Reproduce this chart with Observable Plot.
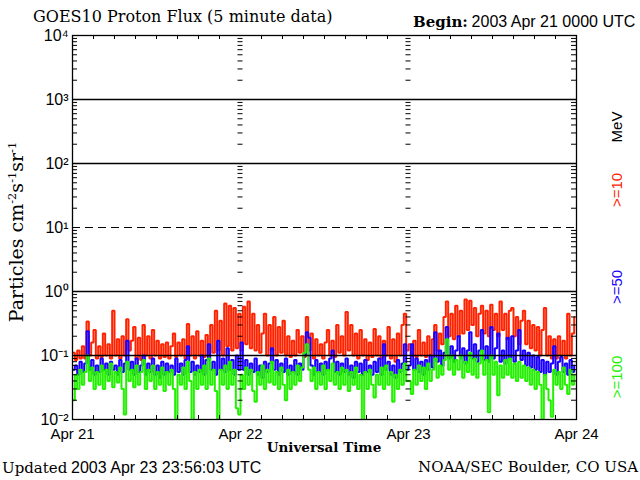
<!DOCTYPE html>
<html><head><meta charset="utf-8">
<script src="https://cdn.jsdelivr.net/npm/d3@7"></script>
<script src="https://cdn.jsdelivr.net/npm/@observablehq/plot@0.6"></script>
<style>
body{margin:0;background:#fff;}
#wrap{position:relative;width:640px;height:480px;overflow:hidden;background:#fff;}
#wrap svg{position:absolute;left:0;top:0;}
.t{position:absolute;white-space:nowrap;line-height:1;color:#000;}
.serif{font-family:"DejaVu Serif",serif;}
.sans{font-family:"Liberation Sans",Arial,sans-serif;}
.rot{transform:translate(-50%,-50%) rotate(-90deg);}
sup{font-size:60%;vertical-align:0.55em;line-height:0;}
</style></head><body>
<div id="wrap">
  <div class="t serif" style="left:33px;top:9px;font-size:16px">GOES10 Proton Flux (5 minute data)</div>
  <div class="t" style="left:413px;top:14px;font-size:15px"><b class="serif">Begin:</b> <span class="sans" style="font-size:16px">2003 Apr 21 0000 UTC</span></div>
  <div class="t serif" style="left:324px;top:448px;transform:translate(-50%,-50%);font-size:13.5px;font-weight:bold">Universal Time</div>
  <div class="t" style="left:2px;top:460px;font-size:15px"><span class="serif">Updated</span> <span class="sans" style="font-size:16px">2003 Apr 23 23:56:03 UTC</span></div>
  <div class="t serif" style="right:2px;top:460px;font-size:15px">NOAA/SEC Boulder, CO USA</div>
  <div class="t serif rot" style="left:16px;top:232px;font-size:19px">Particles cm<sup>-2</sup>s<sup>-1</sup>sr<sup>-1</sup></div>
  <div class="t sans rot" style="left:616px;top:127px;font-size:15px;color:#000">MeV</div>
  <div class="t sans rot" style="left:616px;top:190px;font-size:15px;color:#ff2200">&gt;=10</div>
  <div class="t sans rot" style="left:616px;top:287px;font-size:15px;color:#1a00ff">&gt;=50</div>
  <div class="t sans rot" style="left:616px;top:377px;font-size:15px;color:#22f000">&gt;=100</div>
</div>
<script>
// ---- data (20-minute samples, Apr 21 00:00 UTC onward) ----
const startTime = Date.UTC(2003, 3, 21, 0, 0);
const endTime = Date.UTC(2003, 3, 24, 0, 0);
const sampleMinutes = 20;
const dayLabels = ["Apr 21", "Apr 22", "Apr 23", "Apr 24"];
const decadeExponents = [-2, -1, 0, 1, 2, 3, 4];
const solidLevels = [0.1, 1, 100, 1000];
const dashedLevels = [10];
const channelNames = [">=10 MeV", ">=50 MeV", ">=100 MeV"];
const channelColors = ["#ff2200", "#1a00ff", "#22f000"];

const flux10 = [
  0.11,0.085,0.12,0.09,0.14,0.09,0.34,0.1,0.16,0.25,0.09,0.14,0.095,0.22,0.1,0.15,0.09,0.5,0.1,0.18,0.09,0.2,0.1,0.37,0.12,0.17,0.28,0.09,0.19,0.085,0.3,0.1,0.2,0.09,0.25,0.1,0.17,0.09,0.15,0.095,0.16,0.09,0.14,0.22,0.095,0.16,0.1,0.18,0.09,0.31,0.1,0.2,0.09,0.24,0.1,0.17,0.095,0.21,0.1,0.3,0.11,0.5,0.12,0.35,0.1,0.65,0.14,0.6,0.12,0.55,0.13,0.45,
  0.12,0.58,0.15,0.7,0.13,0.45,0.12,0.3,0.11,0.22,0.45,0.1,0.3,0.12,0.4,0.1,0.28,0.11,0.35,0.1,0.2,0.095,0.17,0.1,0.25,0.11,0.2,0.095,0.4,0.12,0.22,0.09,0.18,0.1,0.15,0.09,0.16,0.25,0.1,0.17,0.095,0.3,0.11,0.2,0.1,0.48,0.12,0.3,0.1,0.22,0.09,0.25,0.1,0.18,0.085,0.16,0.095,0.26,0.1,0.2,0.09,0.17,0.1,0.28,0.09,0.18,0.08,0.22,0.1,0.3,0.45,0.12,
  0.15,0.1,0.17,0.095,0.25,0.1,0.16,0.095,0.2,0.1,0.18,0.3,0.12,0.22,0.15,0.4,0.7,0.2,0.45,0.18,0.6,0.2,0.5,0.22,0.75,0.25,0.72,0.3,0.55,0.2,0.45,0.6,0.22,0.5,0.2,0.62,0.25,0.45,0.2,0.7,0.25,0.45,0.18,0.5,0.55,0.2,0.4,0.15,0.35,0.5,0.15,0.35,0.13,0.3,0.12,0.28,0.1,0.25,0.55,0.1,0.2,0.09,0.18,0.09,0.2,0.1,0.17,0.09,0.45,0.1,0.22,0.4
];
const flux50 = [
  0.06,0.07,0.05,0.08,0.055,0.075,0.24,0.06,0.085,0.05,0.07,0.055,0.09,0.06,0.075,0.05,0.08,0.06,0.07,0.05,0.085,0.055,0.075,0.17,0.06,0.08,0.05,0.09,0.055,0.07,0.1,0.05,0.075,0.055,0.09,0.05,0.07,0.045,0.08,0.05,0.075,0.055,0.07,0.05,0.09,0.055,0.075,0.05,0.085,0.14,0.055,0.08,0.05,0.07,0.055,0.1,0.05,0.085,0.15,0.06,0.08,0.05,0.17,0.06,0.09,0.055,0.13,0.06,0.085,0.05,0.1,0.06,
  0.16,0.06,0.085,0.05,0.075,0.055,0.09,0.05,0.07,0.045,0.08,0.055,0.075,0.13,0.06,0.085,0.05,0.075,0.055,0.09,0.05,0.07,0.055,0.085,0.05,0.075,0.06,0.1,0.23,0.19,0.07,0.05,0.085,0.055,0.075,0.05,0.08,0.06,0.09,0.12,0.055,0.08,0.05,0.075,0.055,0.09,0.05,0.07,0.045,0.08,0.055,0.075,0.05,0.085,0.055,0.07,0.05,0.08,0.055,0.09,0.05,0.15,0.06,0.08,0.05,0.07,0.045,0.085,0.055,0.075,0.15,0.06,
  0.07,0.15,0.06,0.09,0.055,0.08,0.05,0.085,0.06,0.1,0.065,0.23,0.08,0.12,0.07,0.11,0.28,0.09,0.14,0.08,0.12,0.2,0.09,0.13,0.075,0.12,0.23,0.09,0.15,0.08,0.12,0.25,0.085,0.14,0.08,0.28,0.09,0.13,0.22,0.08,0.12,0.075,0.19,0.09,0.2,0.08,0.12,0.25,0.085,0.12,0.07,0.11,0.065,0.1,0.06,0.095,0.055,0.085,0.05,0.08,0.055,0.075,0.14,0.05,0.08,0.095,0.055,0.075,0.05,0.085,0.055,0.07
];
const flux100 = [
  0.02,0.05,0.03,0.06,0.035,0.055,0.1,0.04,0.065,0.03,0.055,0.035,0.07,0.03,0.06,0.04,0.075,0.032,0.055,0.038,0.065,0.03,0.012,0.08,0.04,0.06,0.032,0.07,0.035,0.055,0.085,0.03,0.06,0.04,0.07,0.03,0.055,0.035,0.065,0.028,0.055,0.035,0.06,0.03,0.0095,0.05,0.035,0.065,0.03,0.08,0.04,0.0095,0.055,0.03,0.06,0.035,0.07,0.03,0.09,0.035,0.06,0.028,0.0095,0.06,0.035,0.07,0.03,0.08,0.035,0.06,0.015,0.012,
  0.05,0.03,0.065,0.035,0.06,0.028,0.019,0.055,0.035,0.07,0.03,0.06,0.038,0.08,0.035,0.055,0.03,0.065,0.035,0.02,0.06,0.03,0.055,0.035,0.07,0.04,0.065,0.11,0.15,0.06,0.04,0.065,0.03,0.055,0.035,0.07,0.03,0.06,0.04,0.075,0.035,0.055,0.03,0.065,0.035,0.06,0.028,0.055,0.035,0.065,0.03,0.05,0.0098,0.055,0.03,0.06,0.035,0.022,0.05,0.035,0.065,0.03,0.07,0.035,0.055,0.019,0.05,0.03,0.06,0.035,0.075,0.04,
  0.04,0.025,0.06,0.035,0.07,0.04,0.065,0.03,0.075,0.04,0.06,0.09,0.045,0.07,0.05,0.085,0.18,0.06,0.1,0.05,0.085,0.06,0.1,0.045,0.08,0.055,0.11,0.05,0.09,0.045,0.075,0.12,0.05,0.085,0.013,0.1,0.05,0.08,0.024,0.07,0.045,0.085,0.05,0.09,0.045,0.075,0.04,0.08,0.045,0.07,0.04,0.065,0.035,0.06,0.03,0.055,0.035,0.0098,0.05,0.03,0.02,0.011,0.06,0.035,0.055,0.03,0.065,0.035,0.025,0.06,0.035,0.05
];

// ---- build rows ----
const toRows = (vals, name) => vals.map((v, i) => ({t: new Date(startTime + i * sampleMinutes * 60000), v, channel: name}));
const series = [flux10, flux50, flux100].map((vals, k) => toRows(vals, channelNames[k]));

const marginLeft = 72, marginRight = 64, marginTop = 35, marginBottom = 61;
const W = 640, H = 480;
const msPerPx = (endTime - startTime) / (W - marginLeft - marginRight);
const decadesPerPx = 6 / (H - marginTop - marginBottom);
const off = (t, px) => new Date(t + px * msPerPx);

const minorTicks = [];
for (let e = -2; e <= 3; e++) for (let m = 2; m <= 9; m++) minorTicks.push(m * 10 ** e);
const dayTimes = dayLabels.map((_, i) => startTime + i * 86400000);
const hourTicks = d3.range(startTime, endTime + 1, 3 * 3600000).filter(t => !dayTimes.includes(t)).map(t => new Date(t));
const supMap = {"-": "\u207B", "0": "\u2070", "1": "\u00B9", "2": "\u00B2", "3": "\u00B3", "4": "\u2074"};
const sup = e => String(e).split("").map(c => supMap[c]).join("");

const tickLen = 5;
const chart = Plot.plot({
  width: W, height: H,
  marginLeft, marginRight, marginTop, marginBottom,
  style: {background: "transparent", fontFamily: "Liberation Sans, Arial, sans-serif", overflow: "visible"},
  x: {type: "utc", domain: [new Date(startTime), new Date(endTime)], axis: null},
  y: {type: "log", domain: [0.01, 10000], axis: null},
  marks: [
    ...series.map((rows, k) => Plot.lineY(rows, {x: "t", y: "v", stroke: channelColors[k], strokeWidth: 2, strokeLinejoin: "miter", curve: "step-after", clip: true})),
    Plot.ruleY(solidLevels, {stroke: "black", strokeWidth: 1.4}),
    Plot.ruleY(dashedLevels, {stroke: "black", strokeWidth: 1.2, strokeDasharray: "8,5"}),
    // minor log ticks: left, right, and at the inner day boundaries
    Plot.ruleY(minorTicks, {x1: () => off(startTime, 0), x2: () => off(startTime, tickLen), stroke: "black"}),
    Plot.ruleY(minorTicks, {x1: () => off(endTime, -tickLen), x2: () => off(endTime, 0), stroke: "black"}),
    ...dayTimes.slice(1, 3).map(t => Plot.ruleY(minorTicks, {x1: () => off(t, -2.5), x2: () => off(t, 2.5), stroke: "black"})),
    // 3-hour ticks on bottom and top
    Plot.ruleX(hourTicks, {y1: 0.01, y2: 0.01 * 10 ** (4 * decadesPerPx), stroke: "black"}),
    Plot.ruleX(hourTicks, {y1: 10000 / 10 ** (4 * decadesPerPx), y2: 10000, stroke: "black"}),
    Plot.frame({stroke: "black", strokeWidth: 1.3}),
    Plot.text(decadeExponents, {x: () => new Date(startTime), y: e => 10 ** e, text: e => "10" + sup(e), dx: -4, textAnchor: "end", fontSize: 16, fill: "black"}),
    Plot.text(dayLabels, {x: (d, i) => new Date(dayTimes[i]), y: () => 0.01, text: d => d, dy: 15, fontSize: 15, fill: "black"})
  ]
});
document.getElementById("wrap").prepend(chart);
</script>
</body></html>
